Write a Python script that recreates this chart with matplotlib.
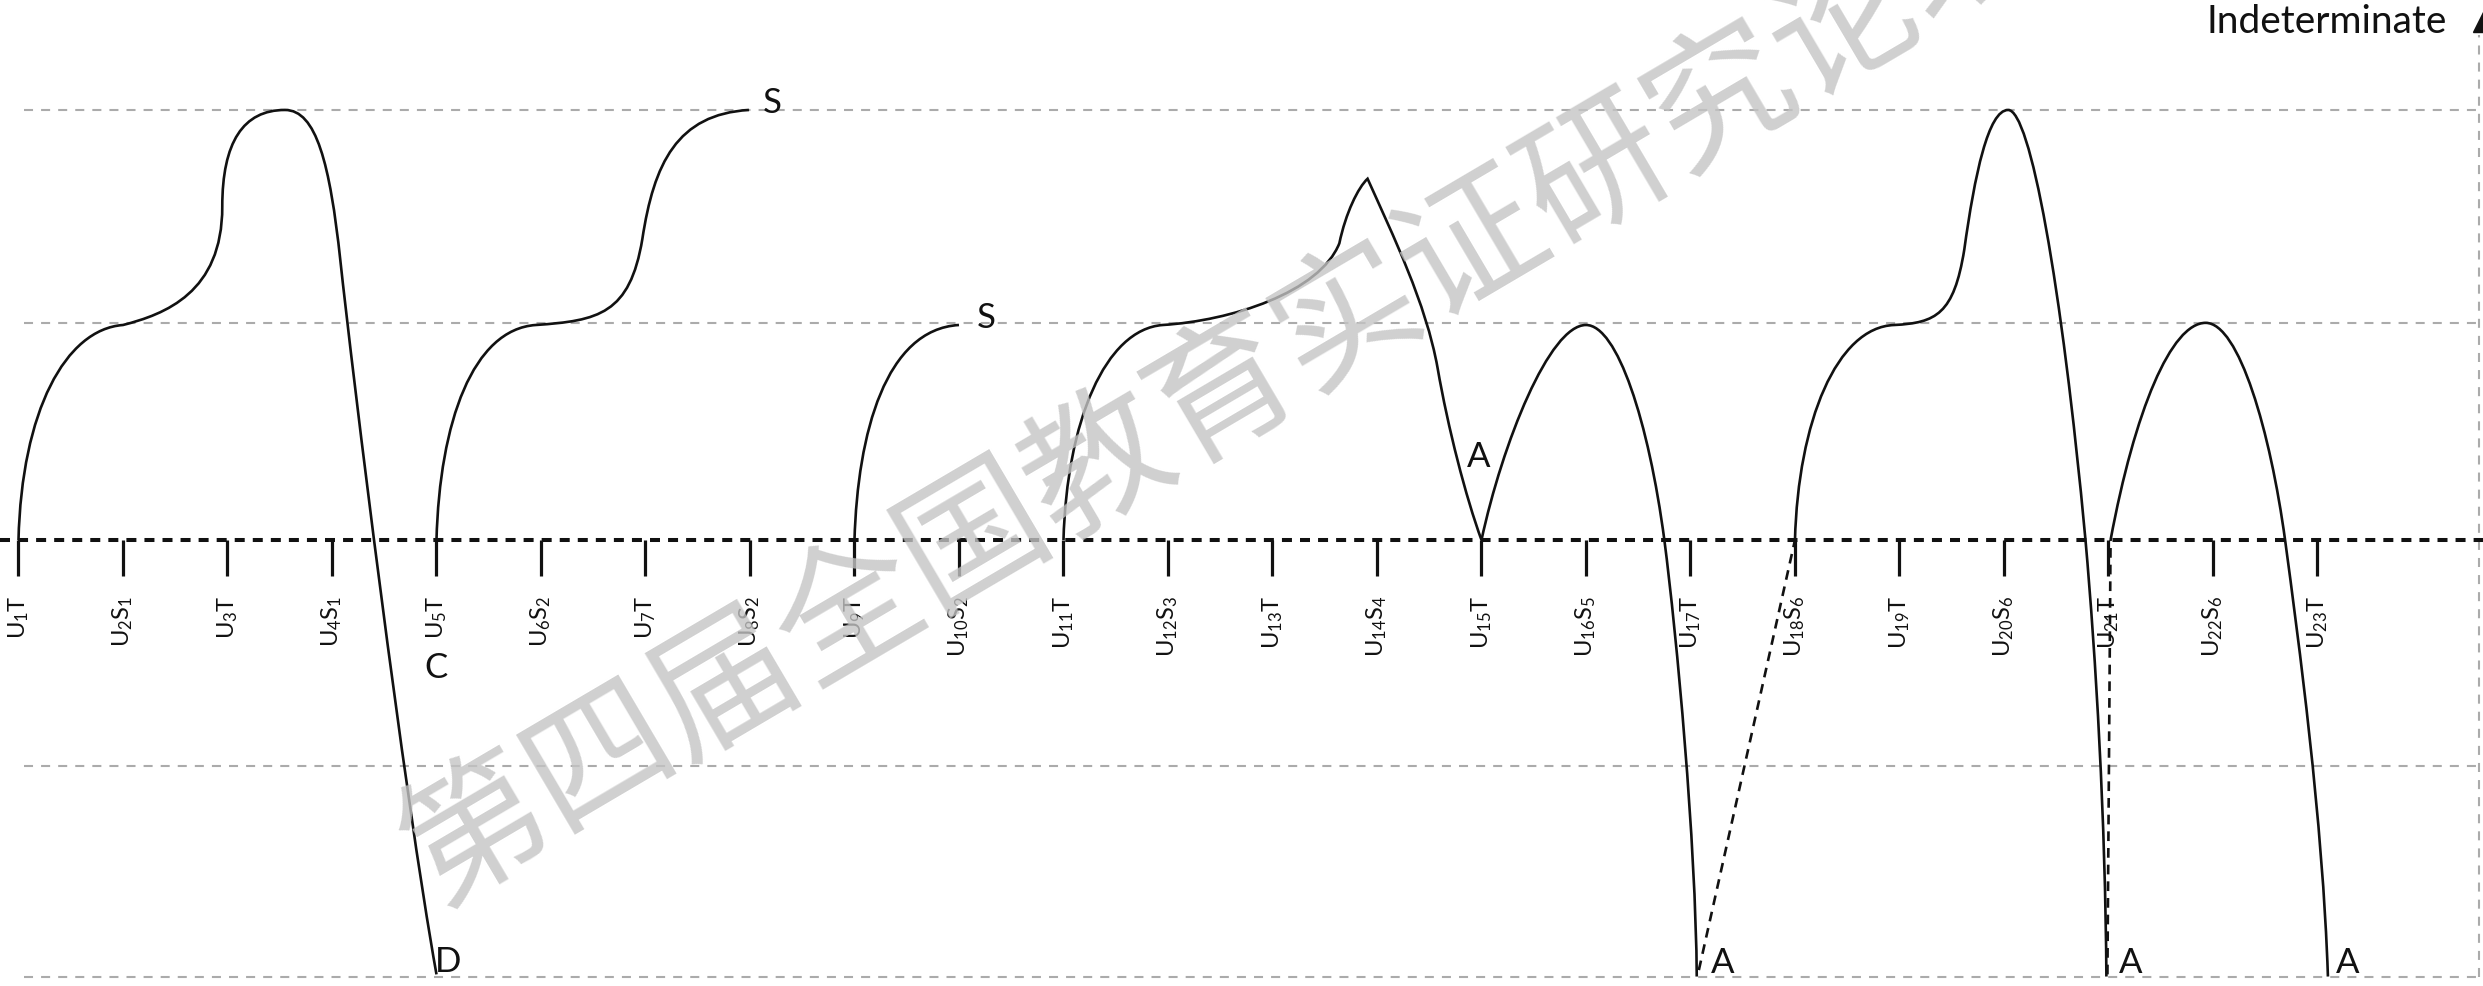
import matplotlib
matplotlib.use("Agg")
import matplotlib.pyplot as plt
from matplotlib.path import Path
from matplotlib.patches import PathPatch

# ---- data ---------------------------------------------------------------
# x = position of the unit on the timeline (0..22), y = level (0 = timeline)
unit_no = list(range(1, 24))
unit_state = ['T', 'S1', 'T', 'S1', 'T', 'S2', 'T', 'S2', 'T', 'S2', 'T', 'S3',
              'T', 'S4', 'T', 'S5', 'T', 'S6', 'T', 'S6', 'T', 'S6', 'T']

# guide levels (gray dashed lines)
guide_levels = [2.0, 1.01, -1.05, -2.03]

# bezier control points of each solid trajectory (start, then 3 points per segment)
curve1_x = [0.0, 0.03, 0.45, 1.0, 1.4, 1.95, 1.95, 1.95, 2.15, 2.55, 2.85, 2.98, 3.08, 3.2, 3.68, 4.0]
curve1_y = [0.0, 0.6, 0.98, 1.0, 1.05, 1.15, 1.55, 1.85, 2.0, 2.0, 2.0, 1.75, 1.3, 0.76, -1.15, -2.02]
curve2_x = [4.0, 4.03, 4.35, 4.95, 5.55, 5.85, 5.97, 6.08, 6.3, 6.99]
curve2_y = [0.0, 0.55, 0.98, 1.0, 1.02, 1.05, 1.4, 1.75, 1.98, 2.0]
curve3_x = [8.0, 8.03, 8.3, 9.0]
curve3_y = [0.0, 0.5, 0.98, 1.0]
curve4_x = [10.0, 10.03, 10.4, 10.95, 11.6, 12.45, 12.64, 12.7, 12.82, 12.91, 13.15, 13.47, 13.58, 13.68, 13.85, 14.0]
curve4_y = [0.0, 0.55, 0.98, 1.0, 1.02, 1.15, 1.38, 1.52, 1.64, 1.68, 1.42, 1.1, 0.8, 0.52, 0.2, 0.0]
curve5_x = [14.0, 14.2, 14.65, 15.0, 15.3, 15.6, 15.75, 15.87, 16.05, 16.06]
curve5_y = [0.0, 0.45, 1.0, 1.0, 1.0, 0.55, 0.0, -0.45, -1.4, -2.03]
curve6_x = [17.0, 17.03, 17.4, 17.95, 18.35, 18.52, 18.62, 18.72, 18.85, 19.04, 19.25, 19.55, 19.78, 19.88, 19.97, 19.98]
curve6_y = [0.0, 0.55, 0.99, 1.0, 1.01, 1.05, 1.35, 1.7, 2.0, 2.0, 2.0, 1.2, 0.0, -0.55, -1.3, -2.03]
curve7_x = [20.02, 20.25, 20.6, 20.93, 21.25, 21.55, 21.69, 21.82, 22.05, 22.1]
curve7_y = [0.0, 0.6, 1.01, 1.01, 1.01, 0.5, 0.0, -0.47, -1.3, -2.03]
curves = [(curve1_x, curve1_y), (curve2_x, curve2_y), (curve3_x, curve3_y), (curve4_x, curve4_y),
          (curve5_x, curve5_y), (curve6_x, curve6_y), (curve7_x, curve7_y)]

# dashed transitions back to the timeline
jump_x = [[16.08, 17.0], [19.99, 20.02]]
jump_y = [[-2.0, 0.0], [-2.02, 0.0]]

# outcome letters
letters = ['D', 'C', 'S', 'S', 'A', 'A', 'A', 'A']
letter_x = [3.98, 4.0, 7.12, 9.17, 13.86, 16.2, 20.1, 22.18]
letter_y = [-2.005, -0.637, 1.99, 0.99, 0.344, -2.01, -2.01, -2.01]
letter_ha = ['left', 'center', 'left', 'left', 'left', 'left', 'left', 'left']

watermark = '第四届全国教育实证研究论坛'

# ---- style ---------------------------------------------------------------
plt.rcParams['font.family'] = ['Lato', 'DejaVu Sans']
plt.rcParams['mathtext.fontset'] = 'custom'
plt.rcParams['mathtext.rm'] = 'Lato'
plt.rcParams['mathtext.it'] = 'Lato:italic'
plt.rcParams['mathtext.bf'] = 'Lato:bold'
plt.rcParams['lines.scale_dashes'] = False

fig = plt.figure(figsize=(24.83, 9.87), dpi=100)
ax = fig.add_axes([0, 0, 1, 1])
ax.set_xlim(-0.177, 23.584)
ax.set_ylim(-2.074, 2.516)
ax.axis('off')

# gray guide lines + right vertical axis
for lv in guide_levels:
    ax.plot([0.053, 23.55], [lv, lv], color='#ababab', lw=1.5, dashes=(6.5, 5.8), zorder=1)
ax.plot([23.55, 23.55], [guide_levels[-1], 2.35], color='#ababab', lw=1.5, dashes=(6.5, 5.8), zorder=1)
ax.plot([23.63], [2.43], marker='^', ms=22, color='#111111', clip_on=False, zorder=3)
ax.text(23.24, 2.363, 'Indeterminate', ha='right', va='baseline', fontsize=28, color='#111111')

# timeline
ax.plot([-0.177, 23.584], [0, 0], color='#111111', lw=2.9, dashes=(7.2, 5.8), zorder=2)
tick_x = [n - 1 for n in unit_no]
ax.vlines(tick_x, -0.167, 0, color='#111111', lw=2.3, zorder=2)
for x, n, st in zip(tick_x, unit_no, unit_state):
    if st == 'T':
        lab = 'U$_{%d}$T' % n
    else:
        lab = 'U$_{%d}$S$_{%s}$' % (n, st[1:])
    ax.text(x, -0.255, lab, rotation=90, ha='center', va='top', fontsize=17, color='#111111')

# trajectories
for cx, cy in curves:
    verts = list(zip(cx, cy))
    codes = [Path.MOVETO] + [Path.CURVE4] * (len(verts) - 1)
    ax.add_patch(PathPatch(Path(verts, codes), fill=False, lw=1.9, edgecolor='#111111', zorder=3))

for jx, jy in zip(jump_x, jump_y):
    ax.plot(jx, jy, color='#111111', lw=1.9, dashes=(7, 5), zorder=3)

for t, x, y, ha in zip(letters, letter_x, letter_y, letter_ha):
    ax.text(x, y, t, ha=ha, va='baseline', fontsize=25, color='#111111', zorder=4)

# watermark
ax.text(3.8, -1.53, watermark, rotation=30.5, rotation_mode='anchor', ha='left', va='center',
        fontsize=104, family=['Noto Sans CJK SC'], fontweight='medium',
        color='#c4c4c4', alpha=0.8, zorder=5)

fig.savefig('out.png', dpi=100)
